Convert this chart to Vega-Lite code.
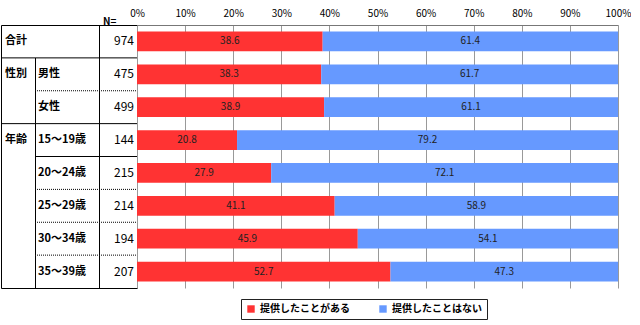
{
  "$schema": "https://vega.github.io/schema/vega-lite/v6.json",
  "padding": {"left": 0, "top": 8, "right": 0, "bottom": 0},
  "background": "white",
  "spacing": 0,
  "bounds": "flush",
  "config": {
    "font": "Noto Sans CJK JP",
    "view": {"stroke": null},
    "legend": {
      "orient": "none",
      "legendX": 240,
      "legendY": 274,
      "direction": "horizontal",
      "strokeColor": "#222",
      "padding": 5,
      "symbolType": "square",
      "symbolSize": 55,
      "symbolStrokeWidth": 0,
      "labelFontSize": 10,
      "labelFontWeight": "bold",
      "labelColor": "#000",
      "columnPadding": 28,
      "fillColor": "white"
    }
  },
  "datasets": {
    "rows": [
      {"row": "合計", "grp": "合計", "sub": "", "n": 974, "提供したことがある": 38.6, "提供したことはない": 61.4},
      {"row": "男性", "grp": "性別", "sub": "男性", "n": 475, "提供したことがある": 38.3, "提供したことはない": 61.7},
      {"row": "女性", "grp": "", "sub": "女性", "n": 499, "提供したことがある": 38.9, "提供したことはない": 61.1},
      {"row": "15～19歳", "grp": "年齢", "sub": "15～19歳", "n": 144, "提供したことがある": 20.8, "提供したことはない": 79.2},
      {"row": "20～24歳", "grp": "", "sub": "20～24歳", "n": 215, "提供したことがある": 27.9, "提供したことはない": 72.1},
      {"row": "25～29歳", "grp": "", "sub": "25～29歳", "n": 214, "提供したことがある": 41.1, "提供したことはない": 58.9},
      {"row": "30～34歳", "grp": "", "sub": "30～34歳", "n": 194, "提供したことがある": 45.9, "提供したことはない": 54.1},
      {"row": "35～39歳", "grp": "", "sub": "35～39歳", "n": 207, "提供したことがある": 52.7, "提供したことはない": 47.3}
    ]
  },
  "hconcat": [
    {
      "width": 136,
      "height": 263,
      "view": {"stroke": "#000", "strokeWidth": 1},
      "data": {"name": "rows"},
      "title": {"text": "N=", "anchor": "end", "dx": -21, "dy": 6, "offset": 4, "fontSize": 10, "fontWeight": "bold", "color": "#000"},
      "encoding": {
        "y": {"field": "row", "type": "nominal", "axis": null,
          "scale": {"domain": ["合計", "男性", "女性", "15～19歳", "20～24歳", "25～29歳", "30～34歳", "35～39歳"], "paddingInner": 0, "paddingOuter": 0}}
      },
      "layer": [
        {
          "transform": [{"filter": {"field": "row", "oneOf": ["男性", "女性", "15～19歳", "20～24歳", "25～29歳", "30～34歳", "35～39歳"]}}],
          "mark": {"type": "rect", "color": "#000"},
          "encoding": {"x": {"value": 34}, "x2": {"value": 35}}
        },
        {
          "mark": {"type": "rect", "color": "#000"},
          "encoding": {"x": {"value": 98}, "x2": {"value": 99}}
        },
        {
          "transform": [{"filter": {"field": "row", "oneOf": ["男性", "15～19歳"]}}],
          "mark": {"type": "rule", "color": "#000", "strokeWidth": 1},
          "encoding": {"y": {"field": "row", "type": "nominal", "bandPosition": 0}, "x": {"value": 0}, "x2": {"value": 136}}
        },
        {
          "transform": [{"filter": {"field": "row", "oneOf": ["20～24歳"]}}],
          "mark": {"type": "rule", "color": "#000", "strokeWidth": 1},
          "encoding": {"y": {"field": "row", "type": "nominal", "bandPosition": 0}, "x": {"value": 34}, "x2": {"value": 136}}
        },
        {
          "transform": [{"filter": {"field": "row", "oneOf": ["女性", "25～29歳", "30～34歳", "35～39歳"]}}],
          "mark": {"type": "rule", "color": "#000", "strokeWidth": 1, "strokeDash": [1, 1]},
          "encoding": {"y": {"field": "row", "type": "nominal", "bandPosition": 0}, "x": {"value": 34}, "x2": {"value": 136}}
        },
        {
          "mark": {"type": "text", "align": "left", "baseline": "middle", "fontSize": 11, "fontWeight": "bold", "color": "#000"},
          "encoding": {"x": {"value": 4}, "text": {"field": "grp"}}
        },
        {
          "mark": {"type": "text", "align": "left", "baseline": "middle", "fontSize": 11, "fontWeight": "bold", "color": "#000"},
          "encoding": {"x": {"value": 37}, "text": {"field": "sub"}}
        },
        {
          "mark": {"type": "text", "align": "right", "baseline": "middle", "fontSize": 12, "color": "#000"},
          "encoding": {"x": {"value": 133}, "text": {"field": "n", "type": "quantitative"}}
        }
      ]
    },
    {
      "width": 481,
      "height": 263,
      "data": {"name": "rows"},
      "transform": [{"fold": ["提供したことがある", "提供したことはない"], "as": ["answer", "pct"]}],
      "encoding": {
        "y": {"field": "row", "type": "nominal", "axis": null,
          "scale": {"domain": ["合計", "男性", "女性", "15～19歳", "20～24歳", "25～29歳", "30～34歳", "35～39歳"], "paddingInner": 0.4, "paddingOuter": 0.2}}
      },
      "layer": [
        {
          "mark": {"type": "bar"},
          "encoding": {
            "x": {"field": "pct", "type": "quantitative", "stack": "zero",
              "scale": {"domain": [0, 100], "nice": false},
              "axis": {"orient": "top", "values": [0, 10, 20, 30, 40, 50, 60, 70, 80, 90, 100],
                "labelExpr": "datum.value + '%'", "grid": true, "gridColor": "#999", "gridOpacity": 1,
                "ticks": false, "domain": true, "domainColor": "#777", "title": null,
                "labelFontSize": 10, "labelPadding": 7, "labelColor": "#000", "labelFlush": false}},
            "color": {"field": "answer", "type": "nominal",
              "scale": {"domain": ["提供したことがある", "提供したことはない"], "range": ["#FF3333", "#6699FF"]},
              "legend": {"title": null}},
            "order": {"field": "answer", "sort": "ascending"}
          }
        },
        {
          "mark": {"type": "text", "fontSize": 10, "color": "#222", "baseline": "middle"},
          "encoding": {
            "x": {"field": "pct", "type": "quantitative", "stack": "zero", "bandPosition": 0.5},
            "text": {"field": "pct", "type": "quantitative", "format": ".1f"},
            "detail": {"field": "answer"},
            "order": {"field": "answer", "sort": "ascending"}
          }
        }
      ]
    }
  ]
}
